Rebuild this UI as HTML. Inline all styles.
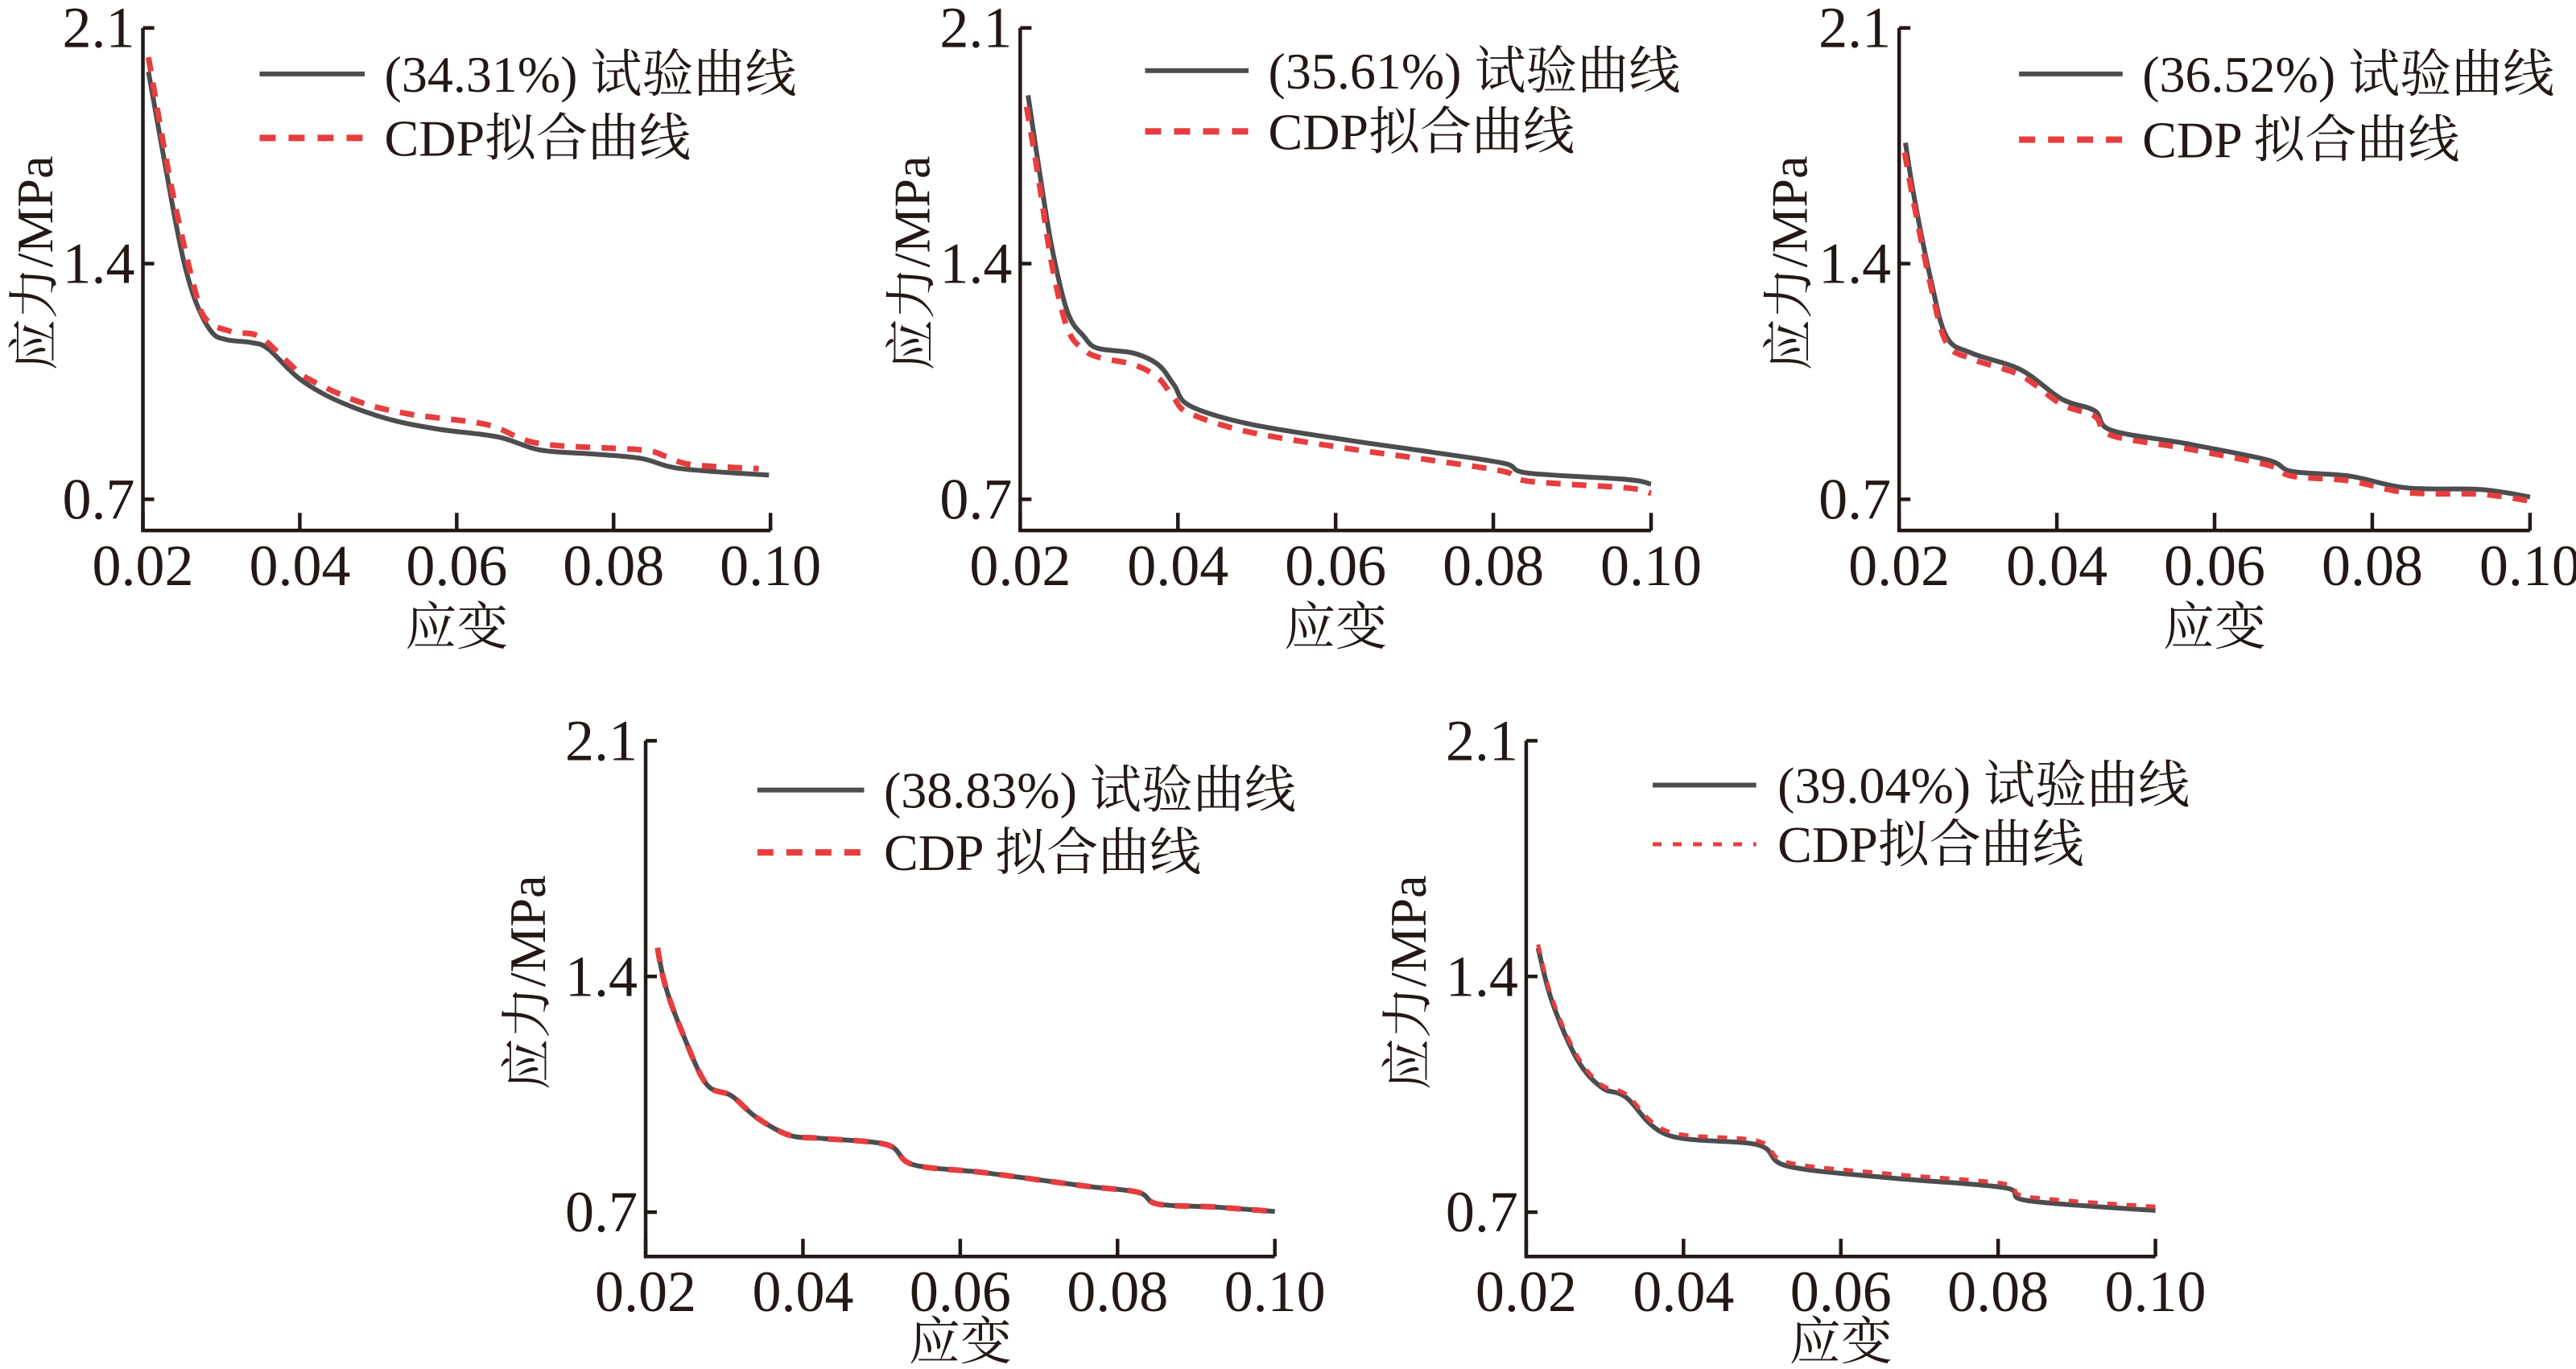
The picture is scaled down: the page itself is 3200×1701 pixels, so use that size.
<!DOCTYPE html>
<html><head><meta charset="utf-8"><style>
html,body{margin:0;padding:0;background:#fff;}
svg{display:block;}
text{font-family:"Liberation Serif","Noto Serif CJK SC","Noto Sans CJK SC",serif;fill:#231815;}
</style></head><body>
<svg id="s" width="3200" height="1701" viewBox="0 0 3200 1701" xmlns="http://www.w3.org/2000/svg"></svg>
<script>
(function(){
var S=document.getElementById('s');
var K=3200/1568;
var out='';
function smooth(p){
  var d='M'+p[0][0].toFixed(1)+' '+p[0][1].toFixed(1);
  for(var i=0;i<p.length-1;i++){
    var p0=p[i-1]||p[i],p1=p[i],p2=p[i+1],p3=p[i+2]||p2;
    var c1=[p1[0]+(p2[0]-p0[0])/6,p1[1]+(p2[1]-p0[1])/6];
    var c2=[p2[0]-(p3[0]-p1[0])/6,p2[1]-(p3[1]-p1[1])/6];
    d+=' C'+c1[0].toFixed(1)+' '+c1[1].toFixed(1)+' '+c2[0].toFixed(1)+' '+c2[1].toFixed(1)+' '+p2[0].toFixed(1)+' '+p2[1].toFixed(1);
  }
  return d;
}
function panel(P){
  var x0=P.ax0*K,x1=P.ax1*K,y21=P.y21*K,y07=P.y07*K,yb=P.yb*K;
  var X=function(v){return x0+(v-0.02)/0.08*(x1-x0);};
  var Y=function(v){return y07-(v-0.7)/1.4*(y07-y21);};
  var ink='#231815';
  out+='<path d="M'+x0+' '+y21+' L'+x0+' '+yb+' L'+x1+' '+yb+'" fill="none" stroke="'+ink+'" stroke-width="4.5"/>';
  [2.1,1.4,0.7].forEach(function(v){var y=Y(v);
    out+='<line x1="'+x0+'" y1="'+y+'" x2="'+(x0+14)+'" y2="'+y+'" stroke="'+ink+'" stroke-width="4.5"/>';
    out+='<text x="'+(x0-10)+'" y="'+(y+24)+'" font-size="72" text-anchor="end">'+v.toFixed(1)+'</text>';});
  [0.02,0.04,0.06,0.08,0.10].forEach(function(v){var x=X(v);
    out+='<line x1="'+x+'" y1="'+yb+'" x2="'+x+'" y2="'+(yb-22)+'" stroke="'+ink+'" stroke-width="4.5"/>';
    out+='<text x="'+x+'" y="'+(yb+68)+'" font-size="72" text-anchor="middle">'+v.toFixed(2)+'</text>';});
  out+='<text x="'+((x0+x1)/2)+'" y="'+(yb+P.xt)+'" font-size="64" text-anchor="middle">应变</text>';
  var ty=(y21+yb)/2-20, tx=P.ylx*K;
  out+='<text x="'+tx+'" y="'+(ty+24)+'" font-size="64" text-anchor="middle" transform="rotate(-90 '+tx+' '+ty+')">应力/MPa</text>';
  var ex=P.exp.map(function(q){return [X(q[0]),Y(q[1])];});
  var fi=P.fit.map(function(q){return [X(q[0]),Y(q[1])];});
  out+='<path d="'+smooth(ex)+'" fill="none" stroke="#4d4d4f" stroke-width="6"/>';
  out+='<path d="'+smooth(fi)+'" fill="none" stroke="#e63e3f" stroke-width="'+(P.fine?5:7)+'" stroke-dasharray="'+(P.fine?'12 12':'18 14')+'"/>';
  var lx=P.lx*K, lx2=P.lx2*K, tx2=P.tx*K, l1=P.l1*K, l2=P.l2*K;
  out+='<line x1="'+lx+'" y1="'+l1+'" x2="'+lx2+'" y2="'+l1+'" stroke="#4d4d4f" stroke-width="6"/>';
  out+='<line x1="'+lx+'" y1="'+l2+'" x2="'+lx2+'" y2="'+l2+'" stroke="#e63e3f" stroke-width="'+(P.fine?5:8)+'" stroke-dasharray="'+(P.fine?'11 14':'20 16')+'"/>';
  out+='<text x="'+tx2+'" y="'+(l1+22)+'" font-size="64">'+P.t1+'</text>';
  out+='<text x="'+tx2+'" y="'+(l2+22)+'" font-size="64">'+P.t2+'</text>';
}
function mk(a,b){var o={},k;for(k in a)o[k]=a[k];for(k in b)o[k]=b[k];return o;}
var rowTop={y21:17,y07:304,yb:323,xt:142};
var rowBot={y21:451,y07:738,yb:765,xt:128};
panel(mk(rowTop,{ax0:87,ax1:469,ylx:20,lx:158,lx2:222,tx:234,l1:45,l2:84,
 t1:'(34.31%) 试验曲线',t2:'CDP拟合曲线',
 exp:[[0.0207,1.97],[0.0236,1.595],[0.0252,1.408],[0.0268,1.283],[0.0288,1.196],[0.0307,1.174],[0.034,1.165],[0.036,1.146],[0.0399,1.059],[0.0444,0.997],[0.0509,0.941],[0.0575,0.909],[0.0653,0.885],[0.0705,0.847],[0.077,0.835],[0.0834,0.822],[0.0886,0.791],[0.0998,0.772]],
 fit:[[0.0207,2.013],[0.0236,1.632],[0.0265,1.333],[0.0281,1.233],[0.0313,1.198],[0.0348,1.184],[0.0384,1.109],[0.041,1.059],[0.0475,0.99],[0.054,0.953],[0.0638,0.922],[0.0705,0.866],[0.0834,0.847],[0.0866,0.828],[0.0899,0.803],[0.0985,0.791]]}));
panel(mk(rowTop,{ax0:621,ax1:1005,ylx:554,lx:697,lx2:760,tx:772,l1:43,l2:80,
 t1:'(35.61%) 试验曲线',t2:'CDP拟合曲线',
 exp:[[0.021,1.90],[0.0223,1.695],[0.024,1.45],[0.026,1.256],[0.0281,1.183],[0.0298,1.149],[0.0344,1.134],[0.0375,1.1],[0.0395,1.04],[0.0415,0.978],[0.049,0.924],[0.0615,0.876],[0.0719,0.841],[0.0813,0.807],[0.0844,0.778],[0.0969,0.759],[0.1,0.745]],
 fit:[[0.0208,1.866],[0.0223,1.656],[0.024,1.40],[0.026,1.207],[0.0281,1.144],[0.0302,1.12],[0.0344,1.1],[0.0375,1.061],[0.0395,1.0],[0.0415,0.955],[0.049,0.9],[0.0615,0.851],[0.0719,0.817],[0.0813,0.783],[0.0844,0.754],[0.0969,0.734],[0.1,0.718]]}));
panel(mk(rowTop,{ax0:1156,ax1:1540,ylx:1088,lx:1229,lx2:1292,tx:1304,l1:45,l2:85,
 t1:'(36.52%) 试验曲线',t2:'CDP 拟合曲线',
 exp:[[0.0208,1.759],[0.0219,1.598],[0.024,1.354],[0.026,1.183],[0.0292,1.134],[0.0354,1.085],[0.0406,0.998],[0.0448,0.963],[0.0469,0.905],[0.0563,0.866],[0.0667,0.817],[0.0698,0.783],[0.0771,0.769],[0.0844,0.734],[0.0938,0.729],[0.1,0.707]],
 fit:[[0.0207,1.73],[0.0219,1.575],[0.024,1.335],[0.026,1.165],[0.0292,1.117],[0.0354,1.068],[0.0406,0.982],[0.0448,0.947],[0.0469,0.89],[0.0563,0.851],[0.0667,0.802],[0.0698,0.769],[0.0771,0.755],[0.0844,0.72],[0.0938,0.715],[0.1,0.695]]}));
var e4=[[0.0215,1.485],[0.0225,1.373],[0.0246,1.237],[0.0277,1.081],[0.0309,1.046],[0.034,0.983],[0.0382,0.929],[0.0424,0.919],[0.0507,0.9],[0.054,0.841],[0.0632,0.817],[0.0757,0.778],[0.0826,0.759],[0.0851,0.724],[0.0924,0.715],[0.1,0.702]];
panel(mk(rowBot,{ax0:393,ax1:776,ylx:320,lx:461,lx2:526,tx:538,l1:481,l2:519,
 t1:'(38.83%) 试验曲线',t2:'CDP 拟合曲线',exp:e4,fit:e4}));
panel(mk(rowBot,{ax0:929,ax1:1312,ylx:856,lx:1006,lx2:1069,tx:1082,l1:478,l2:514,fine:true,
 t1:'(39.04%) 试验曲线',t2:'CDP拟合曲线',
 exp:[[0.0215,1.485],[0.0233,1.324],[0.0265,1.153],[0.0296,1.07],[0.0327,1.041],[0.038,0.929],[0.0494,0.9],[0.0532,0.837],[0.0661,0.802],[0.0807,0.773],[0.0838,0.734],[0.1,0.705]],
 fit:[[0.0215,1.495],[0.0233,1.334],[0.0265,1.163],[0.0296,1.078],[0.0327,1.05],[0.038,0.94],[0.0494,0.912],[0.0532,0.848],[0.0661,0.814],[0.0807,0.785],[0.0838,0.746],[0.1,0.716]]}));
S.innerHTML=out;
})();
</script>
</body></html>
